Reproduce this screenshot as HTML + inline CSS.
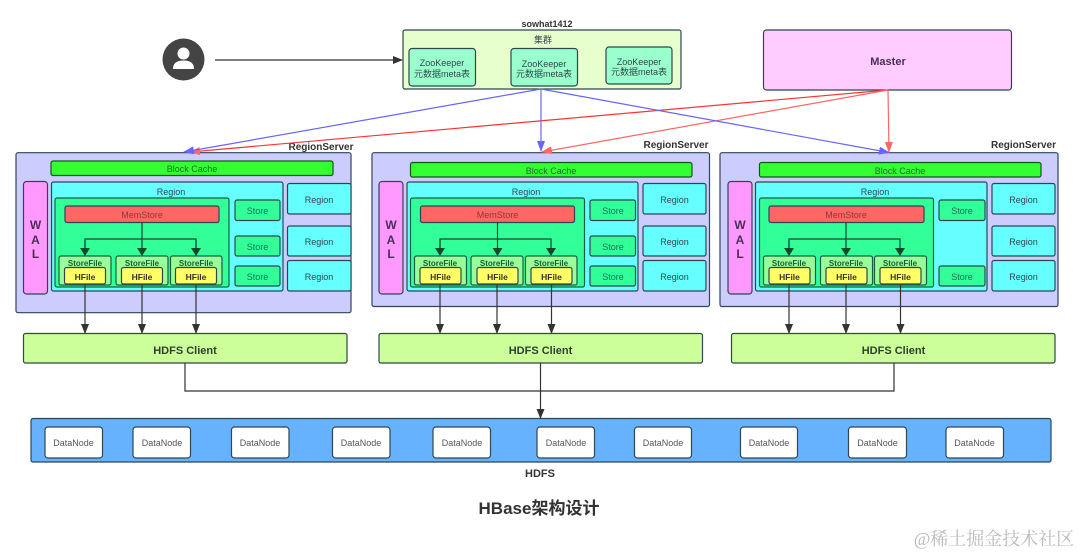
<!DOCTYPE html>
<html><head><meta charset="utf-8"><style>
html,body{margin:0;padding:0;background:#fff;width:1080px;height:555px;overflow:hidden}
svg{display:block;filter:blur(.35px)}
text{font-family:"Liberation Sans","Noto Sans CJK SC",sans-serif;text-anchor:middle;fill:#33474f}
rect{stroke:#2f4650;stroke-width:1.2}
.rs{fill:#ccccff}.bc{fill:#33ff33;stroke:#14541c}.wal{fill:#ff99ff}.rg{fill:#66ffff}.in{fill:#33ff99;stroke:#146040}
.ms{fill:#ff6666}.sf{fill:#99ff99;stroke:#146040}.hf{fill:#ffff66}.st{fill:#33ff99}.hc{fill:#ccff99}.dn{fill:#fff}
.t{font-size:9px}.b{font-weight:bold}
.l{stroke:#333;stroke-width:1.2;fill:none}.g{stroke:#0d4a2c;stroke-width:1.2;fill:none}
</style></head><body>
<svg width="1080" height="555" viewBox="0 0 1080 555" xmlns="http://www.w3.org/2000/svg">
<rect width="1080" height="555" fill="#fff" style="stroke:none"/>
<defs>
<marker id="k" markerWidth="10" markerHeight="8" refX="9" refY="4" orient="auto" markerUnits="userSpaceOnUse"><path d="M0 0L10 4L0 8Z" fill="#333"/></marker>
<marker id="gk" markerWidth="8" markerHeight="10" refX="7" refY="5" orient="auto" markerUnits="userSpaceOnUse"><path d="M0 0L8 5L0 10Z" fill="#0d4a2c"/></marker>
<marker id="bk" markerWidth="11" markerHeight="8" refX="10" refY="4" orient="auto" markerUnits="userSpaceOnUse"><path d="M0 0L11 4L0 8Z" fill="#6666ff"/></marker>
<marker id="rk" markerWidth="11" markerHeight="8" refX="10" refY="4" orient="auto" markerUnits="userSpaceOnUse"><path d="M0 0L11 4L0 8Z" fill="#ff6666"/></marker>
</defs>

<!-- top -->
<circle cx="183.5" cy="59.5" r="21" fill="#444"/>
<circle cx="183.5" cy="53.5" r="6" fill="#fff"/>
<path d="M173 69Q173 60.5 183.5 60.5Q194 60.5 194 69Z" fill="#fff"/>
<path class="l" d="M215 60H402" marker-end="url(#k)"/>
<text x="547" y="27" class="t b" style="fill:#333">sowhat1412</text>
<rect x="403" y="30" width="278" height="59" rx="2" fill="#e6ffcc"/>
<text x="543" y="43" class="t">集群</text>
<rect x="409" y="48.5" width="66.5" height="37.5" rx="3" fill="#99ffcc"/>
<text x="442" y="66" class="t">ZooKeeper</text><text x="442" y="77" class="t">元数据meta表</text>
<rect x="511" y="48.5" width="66.5" height="37.5" rx="3" fill="#99ffcc"/>
<text x="544" y="67" class="t">ZooKeeper</text><text x="544" y="77" class="t">元数据meta表</text>
<rect x="606" y="47" width="66" height="37" rx="3" fill="#99ffcc"/>
<text x="639" y="65" class="t">ZooKeeper</text><text x="639" y="75" class="t">元数据meta表</text>
<rect x="763.5" y="30" width="248" height="60" rx="3" fill="#ffccff"/>
<text x="888" y="65" font-size="11" class="b" style="fill:#4a2f55">Master</text>

<!-- RS1 -->
<rect class="rs" x="16" y="152.7" width="335" height="160" rx="2"/>
<text x="321" y="150" font-size="10" class="b" style="fill:#333">RegionServer</text>
<rect class="bc" x="51" y="161" width="282" height="14.5" rx="2"/>
<text x="192" y="172" class="t" style="fill:#1f6b2a">Block Cache</text>
<rect class="wal" x="23.5" y="181.5" width="24" height="112.5" rx="3"/>
<text x="35.5" y="229" font-size="12" class="b" style="fill:#4a2f55">W</text><text x="35.5" y="244" font-size="12" class="b" style="fill:#4a2f55">A</text><text x="35.5" y="258" font-size="12" class="b" style="fill:#4a2f55">L</text>
<rect class="rg" x="51.5" y="182" width="231.5" height="109" rx="2"/>
<text x="171" y="195" class="t">Region</text>
<rect class="in" x="55" y="198" width="174" height="89" rx="2"/>
<rect class="ms" x="65" y="206" width="154" height="16.5" rx="2"/>
<text x="142" y="218" class="t" style="fill:#8a3a3a">MemStore</text>
<path class="g" d="M142 222.5V256M85 256V239H196V256M142 239V255" marker-end="url(#gk)"/>
<path class="g" d="M85 240V255" marker-end="url(#gk)"/><path class="g" d="M196 240V255" marker-end="url(#gk)"/>
<rect class="sf" x="59" y="256" width="52" height="29" rx="2"/><text x="85" y="266" font-size="8" class="b" style="fill:#1f5c3a">StoreFile</text>
<rect class="hf" x="64.5" y="267.5" width="41" height="16.5" rx="2"/><text x="85" y="280" font-size="8.5" class="b" style="fill:#333">HFile</text>
<rect class="sf" x="116" y="256" width="52" height="29" rx="2"/><text x="142" y="266" font-size="8" class="b" style="fill:#1f5c3a">StoreFile</text>
<rect class="hf" x="121.5" y="267.5" width="41" height="16.5" rx="2"/><text x="142" y="280" font-size="8.5" class="b" style="fill:#333">HFile</text>
<rect class="sf" x="170.5" y="256" width="51.5" height="29" rx="2"/><text x="196" y="266" font-size="8" class="b" style="fill:#1f5c3a">StoreFile</text>
<rect class="hf" x="175.5" y="267.5" width="41" height="16.5" rx="2"/><text x="196" y="280" font-size="8.5" class="b" style="fill:#333">HFile</text>
<rect class="st" x="235" y="200" width="45" height="20.5" rx="2"/><text x="257.5" y="214" class="t" style="fill:#1f6b5a">Store</text>
<rect class="st" x="235" y="236" width="45" height="20" rx="2"/><text x="257.5" y="250" class="t" style="fill:#1f6b5a">Store</text>
<rect class="st" x="235" y="266" width="45" height="20" rx="2"/><text x="257.5" y="280" class="t" style="fill:#1f6b5a">Store</text>
<rect class="rg" x="287.5" y="183.5" width="63.5" height="30.5" rx="2"/><text x="319" y="203" class="t">Region</text>
<rect class="rg" x="287.5" y="226" width="63.5" height="30" rx="2"/><text x="319" y="245" class="t">Region</text>
<rect class="rg" x="287.5" y="260.5" width="63.5" height="30.5" rx="2"/><text x="319" y="280" class="t">Region</text>
<path class="l" d="M85 285V333" marker-end="url(#k)"/><path class="l" d="M142 285V333" marker-end="url(#k)"/><path class="l" d="M196 285V333" marker-end="url(#k)"/>
<rect class="hc" x="23.5" y="333.5" width="323.5" height="29.5" rx="2"/>
<text x="185" y="354" font-size="11" class="b" style="fill:#2f3f2f">HDFS Client</text>

<!-- RS2 -->
<rect class="rs" x="372" y="152.7" width="337.5" height="153.8" rx="2"/>
<text x="676" y="148" font-size="10" class="b" style="fill:#333">RegionServer</text>
<rect class="bc" x="410.5" y="162.5" width="281.5" height="14.5" rx="2"/>
<text x="551" y="174" class="t" style="fill:#1f6b2a">Block Cache</text>
<rect class="wal" x="379" y="181.5" width="24" height="112.5" rx="3"/>
<text x="391" y="229" font-size="12" class="b" style="fill:#4a2f55">W</text><text x="391" y="244" font-size="12" class="b" style="fill:#4a2f55">A</text><text x="391" y="258" font-size="12" class="b" style="fill:#4a2f55">L</text>
<rect class="rg" x="407" y="182" width="231" height="109" rx="2"/>
<text x="526" y="195" class="t">Region</text>
<rect class="in" x="410.5" y="198" width="174" height="89" rx="2"/>
<rect class="ms" x="420.5" y="206" width="154" height="16.5" rx="2"/>
<text x="497.5" y="218" class="t" style="fill:#8a3a3a">MemStore</text>
<path class="g" d="M497.5 222.5V255" marker-end="url(#gk)"/><path class="g" d="M440 255V239H551V255" marker-end="url(#gk)"/><path class="g" d="M440 240V255" marker-end="url(#gk)"/>
<rect class="sf" x="414.5" y="256" width="52" height="29" rx="2"/><text x="440" y="266" font-size="8" class="b" style="fill:#1f5c3a">StoreFile</text>
<rect class="hf" x="420" y="267.5" width="41" height="16.5" rx="2"/><text x="440.5" y="280" font-size="8.5" class="b" style="fill:#333">HFile</text>
<rect class="sf" x="471" y="256" width="52" height="29" rx="2"/><text x="497" y="266" font-size="8" class="b" style="fill:#1f5c3a">StoreFile</text>
<rect class="hf" x="477" y="267.5" width="41" height="16.5" rx="2"/><text x="497.5" y="280" font-size="8.5" class="b" style="fill:#333">HFile</text>
<rect class="sf" x="525.5" y="256" width="51.5" height="29" rx="2"/><text x="551" y="266" font-size="8" class="b" style="fill:#1f5c3a">StoreFile</text>
<rect class="hf" x="531" y="267.5" width="41" height="16.5" rx="2"/><text x="551.5" y="280" font-size="8.5" class="b" style="fill:#333">HFile</text>
<rect class="st" x="590" y="200" width="45.5" height="20.5" rx="2"/><text x="613" y="214" class="t" style="fill:#1f6b5a">Store</text>
<rect class="st" x="590" y="236" width="45.5" height="20" rx="2"/><text x="613" y="250" class="t" style="fill:#1f6b5a">Store</text>
<rect class="st" x="590" y="266" width="45.5" height="20" rx="2"/><text x="613" y="280" class="t" style="fill:#1f6b5a">Store</text>
<rect class="rg" x="643" y="183.5" width="63" height="30.5" rx="2"/><text x="674.5" y="203" class="t">Region</text>
<rect class="rg" x="643" y="226" width="63" height="30" rx="2"/><text x="674.5" y="245" class="t">Region</text>
<rect class="rg" x="643" y="260.5" width="63" height="30.5" rx="2"/><text x="674.5" y="280" class="t">Region</text>
<path class="l" d="M440 285V333" marker-end="url(#k)"/><path class="l" d="M497 285V333" marker-end="url(#k)"/><path class="l" d="M551.5 285V333" marker-end="url(#k)"/>
<rect class="hc" x="379" y="333.5" width="323.5" height="29.5" rx="2"/>
<text x="540.5" y="354" font-size="11" class="b" style="fill:#2f3f2f">HDFS Client</text>

<!-- RS3 -->
<rect class="rs" x="720" y="152.7" width="338" height="153.8" rx="2"/>
<text x="1023.5" y="148" font-size="10" class="b" style="fill:#333">RegionServer</text>
<rect class="bc" x="759.5" y="162.5" width="281.5" height="14.5" rx="2"/>
<text x="900" y="174" class="t" style="fill:#1f6b2a">Block Cache</text>
<rect class="wal" x="728" y="181.5" width="24" height="112.5" rx="3"/>
<text x="740" y="229" font-size="12" class="b" style="fill:#4a2f55">W</text><text x="740" y="244" font-size="12" class="b" style="fill:#4a2f55">A</text><text x="740" y="258" font-size="12" class="b" style="fill:#4a2f55">L</text>
<rect class="rg" x="755.5" y="182" width="231.5" height="109" rx="2"/>
<text x="875" y="195" class="t">Region</text>
<rect class="in" x="759.5" y="198" width="174" height="89" rx="2"/>
<rect class="ms" x="769" y="206" width="155" height="16.5" rx="2"/>
<text x="846" y="218" class="t" style="fill:#8a3a3a">MemStore</text>
<path class="g" d="M846 222.5V255" marker-end="url(#gk)"/><path class="g" d="M789 255V239H900V255" marker-end="url(#gk)"/><path class="g" d="M789 240V255" marker-end="url(#gk)"/>
<rect class="sf" x="763.5" y="256" width="52" height="29" rx="2"/><text x="789" y="266" font-size="8" class="b" style="fill:#1f5c3a">StoreFile</text>
<rect class="hf" x="769" y="267.5" width="41" height="16.5" rx="2"/><text x="789.5" y="280" font-size="8.5" class="b" style="fill:#333">HFile</text>
<rect class="sf" x="820.5" y="256" width="52" height="29" rx="2"/><text x="846" y="266" font-size="8" class="b" style="fill:#1f5c3a">StoreFile</text>
<rect class="hf" x="826" y="267.5" width="41" height="16.5" rx="2"/><text x="846.5" y="280" font-size="8.5" class="b" style="fill:#333">HFile</text>
<rect class="sf" x="874.5" y="256" width="52" height="29" rx="2"/><text x="900" y="266" font-size="8" class="b" style="fill:#1f5c3a">StoreFile</text>
<rect class="hf" x="880" y="267.5" width="41" height="16.5" rx="2"/><text x="900.5" y="280" font-size="8.5" class="b" style="fill:#333">HFile</text>
<rect class="st" x="939" y="200" width="46" height="20.5" rx="2"/><text x="962" y="214" class="t" style="fill:#1f6b5a">Store</text>
<rect class="st" x="939" y="266" width="46" height="20" rx="2"/><text x="962" y="280" class="t" style="fill:#1f6b5a">Store</text>
<rect class="rg" x="992" y="183.5" width="63" height="30.5" rx="2"/><text x="1023.5" y="203" class="t">Region</text>
<rect class="rg" x="992" y="226" width="63" height="30" rx="2"/><text x="1023.5" y="245" class="t">Region</text>
<rect class="rg" x="992" y="260.5" width="63" height="30.5" rx="2"/><text x="1023.5" y="280" class="t">Region</text>
<path class="l" d="M789 285V333" marker-end="url(#k)"/><path class="l" d="M846 285V333" marker-end="url(#k)"/><path class="l" d="M900.5 285V333" marker-end="url(#k)"/>
<rect class="hc" x="731.5" y="333.5" width="323.5" height="29.5" rx="2"/>
<text x="893.5" y="354" font-size="11" class="b" style="fill:#2f3f2f">HDFS Client</text>

<!-- control lines -->
<path d="M888 90L190 152" stroke="#ff3333" stroke-width="1.2" fill="none" marker-end="url(#rk)"/>
<path d="M888 90L542 152" stroke="#ff6666" stroke-width="1.2" fill="none" marker-end="url(#rk)"/>
<path d="M888 90L889 152" stroke="#ff6666" stroke-width="1.2" fill="none" marker-end="url(#rk)"/>
<path d="M541 89L184 152" stroke="#6666ff" stroke-width="1.2" fill="none" marker-end="url(#bk)"/>
<path d="M541 89L541 151" stroke="#6666ff" stroke-width="1.2" fill="none" marker-end="url(#bk)"/>
<path d="M541 89L889 152.5" stroke="#6666ff" stroke-width="1.2" fill="none" marker-end="url(#bk)"/>

<!-- HDFS -->
<path class="l" d="M185 363V391H894V363"/>
<path class="l" d="M540.5 363V418" marker-end="url(#k)"/>
<rect x="31" y="418.5" width="1020" height="43.5" rx="2" fill="#66b2ff"/>
<rect class="dn" x="45" y="427" width="57.5" height="31" rx="3"/><text x="73.5" y="446" class="t" style="fill:#555">DataNode</text>
<rect class="dn" x="133" y="427" width="57.5" height="31" rx="3"/><text x="162" y="446" class="t" style="fill:#555">DataNode</text>
<rect class="dn" x="231.5" y="427" width="57.5" height="31" rx="3"/><text x="260" y="446" class="t" style="fill:#555">DataNode</text>
<rect class="dn" x="332.5" y="427" width="57.5" height="31" rx="3"/><text x="361" y="446" class="t" style="fill:#555">DataNode</text>
<rect class="dn" x="433" y="427" width="57.5" height="31" rx="3"/><text x="462" y="446" class="t" style="fill:#555">DataNode</text>
<rect class="dn" x="537" y="427" width="57.5" height="31" rx="3"/><text x="566" y="446" class="t" style="fill:#555">DataNode</text>
<rect class="dn" x="634.5" y="427" width="57" height="31" rx="3"/><text x="663" y="446" class="t" style="fill:#555">DataNode</text>
<rect class="dn" x="740.5" y="427" width="57" height="31" rx="3"/><text x="769" y="446" class="t" style="fill:#555">DataNode</text>
<rect class="dn" x="848.5" y="427" width="58" height="31" rx="3"/><text x="877.5" y="446" class="t" style="fill:#555">DataNode</text>
<rect class="dn" x="946" y="427" width="57.5" height="31" rx="3"/><text x="974.5" y="446" class="t" style="fill:#555">DataNode</text>
<text x="540" y="477" font-size="11" class="b" style="fill:#333">HDFS</text>
<text x="539" y="514" font-size="17" class="b" style="fill:#333">HBase架构设计</text>
<text x="994" y="545" font-size="18" style="fill:#bbb;font-family:'Liberation Serif','Noto Serif CJK SC',serif">@稀土掘金技术社区</text>
</svg>
</body></html>
